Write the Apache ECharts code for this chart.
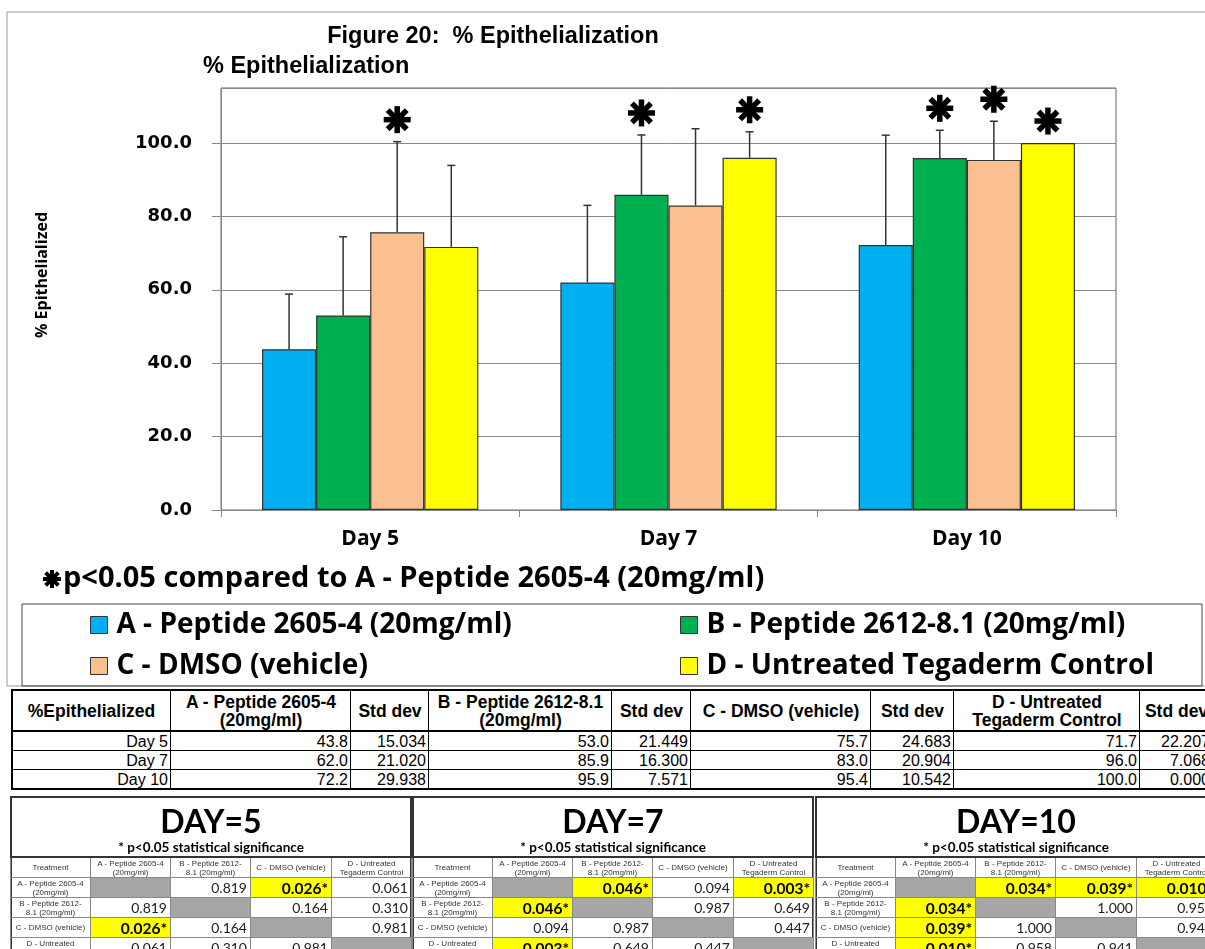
<!DOCTYPE html>
<html><head><meta charset="utf-8">
<script src="https://cdn.jsdelivr.net/npm/echarts/dist/echarts.min.js"></script>
<style>
html,body{margin:0;padding:0;width:1205px;height:949px;overflow:hidden;background:#fff;}
#chart{position:absolute;left:0;top:0;width:1205px;height:949px;}
#tables{position:absolute;left:0;top:0;width:1205px;height:949px;overflow:hidden;}
.c{position:absolute;box-sizing:border-box;border-left:1px solid #000;border-top:1px solid #000;display:flex;align-items:center;font-family:'Liberation Sans',Arial,sans-serif;color:#000;white-space:nowrap;background:#fff;}
.c.hd{justify-content:center;text-align:center;font-weight:bold;font-size:17.5px;line-height:18px;}
.c.dt{justify-content:flex-end;font-size:16px;padding-right:3px;}
.box{position:absolute;box-sizing:border-box;border:2px solid #000;}
.hline{position:absolute;height:2px;background:#000;}
.dbox{position:absolute;top:796px;height:170px;border:2px solid #333;box-sizing:border-box;background:#fff;}
.dtitle{position:absolute;left:0;top:4px;width:398px;text-align:center;font-family:Lato,sans-serif;font-weight:bold;font-size:32px;line-height:38px;color:#000;}
.dsub{position:absolute;left:0;top:42px;width:398px;text-align:center;font-family:Lato,sans-serif;font-weight:bold;font-size:13.5px;line-height:14px;color:#000;}
.pt{position:absolute;left:-2px;top:58px;width:401px;border-collapse:collapse;table-layout:fixed;border-top:2px solid #333;}
.pt td{border:1px solid #888;padding:0;height:19px;overflow:hidden;white-space:nowrap;}
.pt td.h{font-family:'Liberation Sans',Arial,sans-serif;font-size:8px;line-height:9px;color:#333;text-align:center;white-space:normal;}
.pt td.v{font-family:Lato,sans-serif;font-size:14px;color:#222;text-align:right;padding-right:3px;}
.pt td.s{font-family:Lato,sans-serif;font-size:15.5px;font-weight:bold;color:#000;text-align:right;padding-right:3px;background:#FFFF00;}
.pt td.g{background:#A6A6A6;}
</style></head>
<body>
<div id="chart"></div>
<div id="tables"></div>
<script>
// ---------- DATA ----------
const days = ['Day 5', 'Day 7', 'Day 10'];
const seriesNames = ['A - Peptide 2605-4 (20mg/ml)', 'B - Peptide 2612-8.1 (20mg/ml)', 'C - DMSO (vehicle)', 'D - Untreated Tegaderm Control'];
const meanA = [43.8, 62.0, 72.2];
const meanB = [53.0, 85.9, 95.9];
const meanC = [75.7, 83.0, 95.4];
const meanD = [71.7, 96.0, 100.0];
const sdA = [15.034, 21.020, 29.938];
const sdB = [21.449, 16.300, 7.571];
const sdC = [24.683, 20.904, 10.542];
const sdD = [22.207, 7.068, 0.000];
const colors = ['#00B0F0', '#00B050', '#FAC090', '#FFFF00'];
// pairwise p-values (rows/cols A,B,C,D)
const pDay5 = [[null, 0.819, 0.026, 0.061], [0.819, null, 0.164, 0.310], [0.026, 0.164, null, 0.981], [0.061, 0.310, 0.981, null]];
const pDay7 = [[null, 0.046, 0.094, 0.003], [0.046, null, 0.987, 0.649], [0.094, 0.987, null, 0.447], [0.003, 0.649, 0.447, null]];
const pDay10 = [[null, 0.034, 0.039, 0.010], [0.034, null, 1.000, 0.958], [0.039, 1.000, null, 0.941], [0.010, 0.958, 0.941, null]];
const pTitles = ['DAY=5', 'DAY=7', 'DAY=10'];
const treatLabels = ['A - Peptide 2605-4<br>(20mg/ml)', 'B - Peptide 2612-<br>8.1 (20mg/ml)', 'C - DMSO (vehicle)', 'D - Untreated<br>Tegaderm Control'];
const tableHeaders = ['%Epithelialized', 'A - Peptide 2605-4<br>(20mg/ml)', 'Std dev', 'B - Peptide 2612-8.1<br>(20mg/ml)', 'Std dev', 'C - DMSO (vehicle)', 'Std dev', 'D - Untreated<br>Tegaderm Control', 'Std dev'];
const yMin = 0, yMax = 115, yStep = 20;

const means = [meanA, meanB, meanC, meanD];
const sds = [sdA, sdB, sdC, sdD];
const pAll = [pDay5, pDay7, pDay10];

// ---------- CHART ----------
const GAP = 0.275;
const errData = [];
for (let s = 0; s < 4; s++) for (let c = 0; c < days.length; c++) {
  const sig = (s > 0 && pAll[c][0][s] < 0.05) ? 1 : 0;
  errData.push([c, s, means[s][c], sds[s][c], sig]);
}
function asterisk(cx, cy, r, w) {
  const out = [];
  for (let k = 0; k < 4; k++) {
    const a = k * Math.PI / 4;
    out.push({type: 'line', shape: {x1: cx - r * Math.sin(a), y1: cy - r * Math.cos(a), x2: cx + r * Math.sin(a), y2: cy + r * Math.cos(a)}, style: {stroke: '#000', lineWidth: w}});
  }
  return out;
}
function renderErr(params, api) {
  const ci = api.value(0), si = api.value(1), m = api.value(2), sd = api.value(3), sig = api.value(4);
  const catW = api.size([1, 0])[0];
  const groupW = catW * (1 - GAP);
  const bw = groupW / 4;
  const c = api.coord([ci, m]);
  const x = c[0] - groupW / 2 + bw * (si + 0.5);
  const yTop = api.coord([ci, m + sd])[1];
  const ch = [];
  if (sd > 0) {
    ch.push({type: 'line', shape: {x1: x, y1: c[1], x2: x, y2: yTop}, style: {stroke: '#333', lineWidth: 1.5}});
    ch.push({type: 'line', shape: {x1: x - 4, y1: yTop, x2: x + 4, y2: yTop}, style: {stroke: '#333', lineWidth: 1.5}});
  }
  if (sig) asterisk(x, yTop - 22, 13.5, 5.5).forEach(e => ch.push(e));
  return {type: 'group', children: ch};
}

const chart = echarts.init(document.getElementById('chart'));
const barSeries = seriesNames.map((n, i) => ({
  name: n, type: 'bar', data: means[i], barGap: '0%', barCategoryGap: (GAP * 100) + '%',
  itemStyle: {color: colors[i], borderColor: '#333', borderWidth: 1.2},
  emphasis: {disabled: true}
}));
const legendText = {fontFamily: 'Open Sans', fontWeight: 'bold', fontSize: 28, color: '#000', lineHeight: 32, padding: [0, 0, 0, 4]};
chart.setOption({
  animation: false,
  backgroundColor: '#fff',
  grid: {left: 221, right: 89, top: 88, bottom: 439, show: true, borderColor: '#666', borderWidth: 1},
  xAxis: {
    type: 'category', data: days,
    axisLine: {lineStyle: {color: '#888', width: 1}},
    axisTick: {show: true, length: 7, lineStyle: {color: '#888'}},
    axisLabel: {fontFamily: 'Open Sans', fontWeight: 'bold', fontSize: 21, color: '#000', margin: 19}
  },
  yAxis: {
    type: 'value', min: yMin, max: yMax, interval: yStep,
    axisLine: {show: true, lineStyle: {color: '#888'}},
    axisTick: {show: true, length: 9, lineStyle: {color: '#888'}},
    splitLine: {lineStyle: {color: '#888', width: 1}},
    axisLabel: {showMaxLabel: false, fontFamily: 'DejaVu Sans', fontWeight: 'bold', fontSize: 18, color: '#000', margin: 29, formatter: v => v.toFixed(1)}
  },
  legend: [
    {data: [seriesNames[0], seriesNames[2]], orient: 'vertical', left: 90, top: 609, padding: 0, itemWidth: 17, itemHeight: 17, itemGap: 9, icon: 'rect',
      itemStyle: {borderColor: '#333', borderWidth: 1}, textStyle: legendText, selectedMode: false},
    {data: [seriesNames[1], seriesNames[3]], orient: 'vertical', left: 680, top: 609, padding: 0, itemWidth: 17, itemHeight: 17, itemGap: 9, icon: 'rect',
      itemStyle: {borderColor: '#333', borderWidth: 1}, textStyle: legendText, selectedMode: false}
  ],
  graphic: [
    {type: 'rect', z: -10, shape: {x: 7, y: 12, width: 1210, height: 674}, style: {fill: 'none', stroke: '#999', lineWidth: 1}},
    {type: 'rect', z: -9, shape: {x: 22, y: 604, width: 1180, height: 82}, style: {fill: 'none', stroke: '#444', lineWidth: 1}},
    {type: 'text', style: {text: 'Figure 20:  % Epithelialization', x: 493, y: 37, align: 'center', verticalAlign: 'middle', font: 'bold 23.5px "Liberation Sans", Arial', fill: '#000'}},
    {type: 'text', style: {text: '% Epithelialization', x: 203, y: 67, align: 'left', verticalAlign: 'middle', font: 'bold 23.5px "Liberation Sans", Arial', fill: '#000'}},
    {type: 'text', x: 42, y: 275, rotation: Math.PI / 2, style: {text: '% Epithelialized', x: 0, y: 0, align: 'center', verticalAlign: 'middle', font: 'bold 16px "Open Sans"', fill: '#000'}},
    {type: 'group', children: asterisk(52, 579, 9, 4)},
    {type: 'text', style: {text: 'p<0.05 compared to A - Peptide 2605-4 (20mg/ml)', x: 63, y: 579, align: 'left', verticalAlign: 'middle', font: 'bold 29px "Open Sans"', fill: '#000'}}
  ],
  series: barSeries.concat([{
    type: 'custom', renderItem: renderErr, data: errData, z: 5, silent: true,
    encode: {x: 0, y: 2}
  }])
});

// ---------- TABLES ----------
const tabs = document.getElementById('tables');
(function buildMain() {
  const xs = [11, 170, 350, 428, 611, 690, 870, 953, 1139, 1212];
  const ys = [689, 731, 750, 769, 789];
  let h = '';
  const cell = (x0, x1, y0, y1, html, cls) => `<div class="c ${cls}" style="left:${x0}px;top:${y0}px;width:${x1 - x0 + 1}px;height:${y1 - y0 + 1}px;">${html}</div>`;
  tableHeaders.forEach((t, i) => { h += cell(xs[i], xs[i + 1], ys[0], ys[1], t, 'hd'); });
  days.forEach((d, c) => {
    const y0 = ys[c + 1], y1 = ys[c + 2];
    h += cell(xs[0], xs[1], y0, y1, d, 'dt');
    for (let s = 0; s < 4; s++) {
      h += cell(xs[1 + 2 * s], xs[2 + 2 * s], y0, y1, means[s][c].toFixed(1), 'dt');
      h += cell(xs[2 + 2 * s], xs[3 + 2 * s], y0, y1, sds[s][c].toFixed(3), 'dt');
    }
  });
  h += `<div class="hline" style="left:${xs[0]}px;top:${ys[1] - 1}px;width:${xs[9] - xs[0]}px;"></div>`;
  h += `<div class="box" style="left:${xs[0]}px;top:${ys[0]}px;width:${xs[9] - xs[0]}px;height:${ys[4] - ys[0] + 1}px;"></div>`;
  tabs.insertAdjacentHTML('beforeend', h);
})();
(function buildP() {
  const lefts = [10, 412, 815];
  pAll.forEach((P, k) => {
    let h = `<div class="dbox" style="left:${lefts[k]}px;width:402px;"><div class="dtitle">${pTitles[k]}</div><div class="dsub">* p&lt;0.05 statistical significance</div>`;
    h += '<table class="pt"><colgroup>' + [80, 80, 80, 81, 80].map(w => `<col style="width:${w}px">`).join('') + '</colgroup>';
    h += '<tr><td class="h">Treatment</td>' + treatLabels.map(t => `<td class="h">${t}</td>`).join('') + '</tr>';
    for (let r = 0; r < 4; r++) {
      h += `<tr><td class="h">${treatLabels[r]}</td>`;
      for (let c = 0; c < 4; c++) {
        const v = P[r][c];
        if (v === null) h += '<td class="g"></td>';
        else if (v < 0.05) h += `<td class="s">${v.toFixed(3)}*</td>`;
        else h += `<td class="v">${v.toFixed(3)}</td>`;
      }
      h += '</tr>';
    }
    h += '</table></div>';
    tabs.insertAdjacentHTML('beforeend', h);
  });
})();
</script>
</body></html>
